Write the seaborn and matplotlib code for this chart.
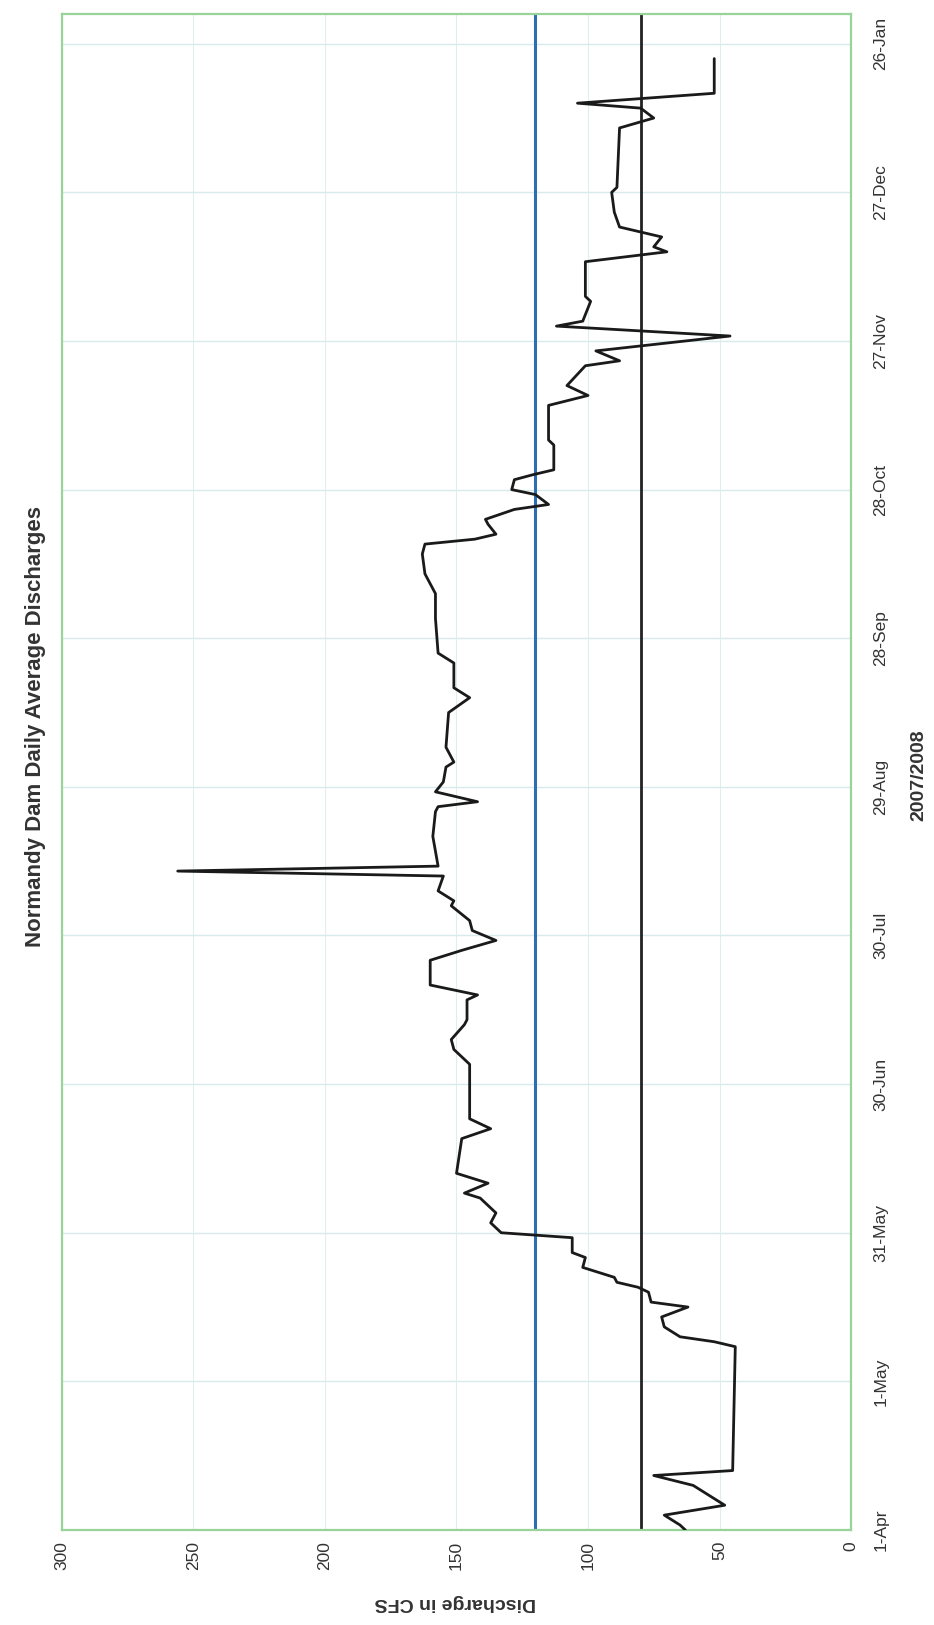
import numpy as np
import pandas as pd
import seaborn as sns
import matplotlib.pyplot as plt

# chart is printed sideways: discharge runs right-to-left, dates run bottom-to-top
# days after 1-Apr-2007 and daily average discharge in cfs
days = [0, 1, 3, 5, 9, 11, 12, 37, 38, 39, 41, 43, 45, 46, 48, 49, 50, 51,
        53, 55, 56, 59, 60, 62, 64, 67, 68, 70, 71, 72, 79, 81, 83, 94, 97, 99,
        102, 103, 107, 108, 110, 115, 117, 119, 121, 123, 126, 127, 129, 132,
        133, 134, 137, 140, 145, 146, 147, 149, 151, 154, 155, 158, 165, 168,
        170, 175, 177, 184, 189, 193, 197, 199, 200, 201, 203, 204, 206, 207,
        209, 210, 212, 213, 214, 219, 220, 227, 229, 231, 235, 236, 238, 241,
        243, 244, 248, 249, 256, 258, 259, 261, 262, 263, 266, 270, 271, 283,
        285, 287, 288, 290, 297]
discharge = [63, 65, 71, 48, 60, 75, 45, 44, 52, 65, 71, 72, 62, 76, 77, 81, 89, 90,
             102, 101, 106, 106, 133, 137, 135, 141, 147, 138, 144, 150, 148, 137, 145, 145, 151, 152,
             147, 146, 146, 142, 160, 160, 148, 135, 144, 145, 152, 151, 157, 155,
             256, 157, 158, 159, 158, 157, 142, 158, 155, 154, 151, 154, 153, 145,
             151, 151, 157, 158, 158, 162, 163, 162, 143, 135, 138, 139, 128, 115,
             120, 129, 128, 121, 113, 113, 115, 115, 100, 108, 101, 88, 97, 46,
             112, 102, 99, 101, 101, 70, 75, 72, 80, 88, 90, 91, 89, 88,
             75, 80, 104, 52, 52]

upper_line = 120   # blue reference line
lower_line = 80    # black reference line

cfs_ticks = [0, 50, 100, 150, 200, 250, 300]
date_ticks = [0, 30, 60, 90, 120, 150, 180, 210, 240, 270, 300]
date_labels = ["1-Apr", "1-May", "31-May", "30-Jun", "30-Jul", "29-Aug",
               "28-Sep", "28-Oct", "27-Nov", "27-Dec", "26-Jan"]

df = pd.DataFrame({"day": days, "cfs": discharge})

sns.set_style("white")
plt.rcParams['font.family'] = ['Liberation Sans', 'DejaVu Sans']

fig = plt.figure(figsize=(9.34, 16.25), dpi=100)
ax = fig.add_axes([62 / 934, 95 / 1625, 789 / 934, 1516 / 1625])

grid_col = "#e2eeee"
for v in cfs_ticks:
    ax.axvline(v, color=grid_col, lw=0.8, zorder=0)
for d in date_ticks:
    ax.axhline(d, color="#d8eaea", lw=1.0, zorder=0)

ax.axvline(upper_line, color="#2e6db4", lw=2.2, zorder=2)
ax.axvline(lower_line, color="#222222", lw=2.0, zorder=2)

sns.lineplot(data=df, x="cfs", y="day", sort=False, orient="y", estimator=None,
             color="#1a1a1a", lw=2.0, ax=ax, zorder=3)

ax.set_xlim(300, 0)
ax.set_ylim(0, 306)
ax.set_xticks(cfs_ticks)
ax.set_xticklabels([str(v) for v in cfs_ticks], rotation=90, fontsize=12.5, color="#333333")
ax.set_yticks(date_ticks)
ax.set_yticklabels(date_labels, rotation=90, fontsize=12.5, color="#333333", va="center")
ax.yaxis.tick_right()
ax.tick_params(axis="x", length=0, pad=8)
ax.tick_params(axis="y", length=0, pad=16)
ax.set_xlabel("")
ax.set_ylabel("")

for s in ax.spines.values():
    s.set_color("#98d498")
    s.set_linewidth(1.6)

fig.text(455 / 934, 1 - 1603 / 1625, "Discharge in CFS", rotation=180, fontsize=14,
         fontweight="bold", color="#333333", ha="center", va="center")
fig.text(919 / 934, 1 - 775 / 1625, "2007/2008", rotation=90, fontsize=14,
         fontweight="bold", color="#333333", ha="center", va="center")
fig.text(36 / 934, 1 - 726 / 1625, "Normandy Dam Daily Average Discharges", rotation=90,
         fontsize=16, fontweight="bold", color="#333333", ha="center", va="center")

fig.savefig("out.png", dpi=100)
